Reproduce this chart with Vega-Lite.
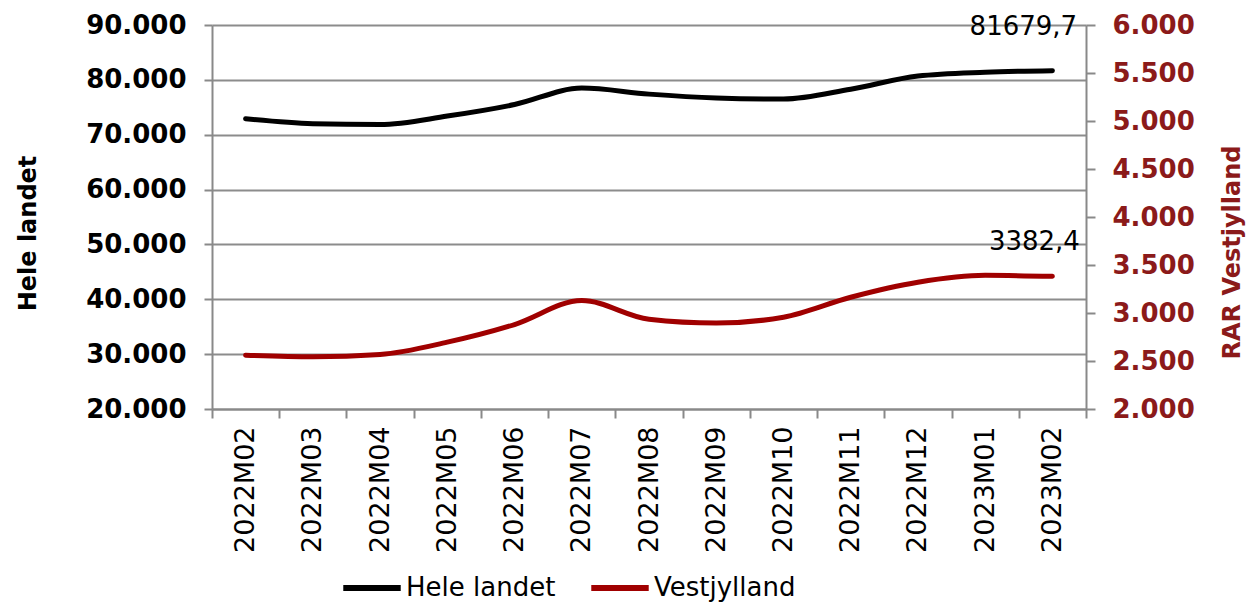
{
  "$schema": "https://vega.github.io/schema/vega-lite/v6.json",
  "width": 874,
  "height": 384,
  "autosize": {"type": "none"},
  "padding": {"left": 212, "top": 25, "right": 168, "bottom": 193},
  "background": "white",
  "config": {
    "locale": {"number": {"decimal": ",", "thousands": ".", "grouping": [3], "currency": ["", " kr."]}},
    "view": {"stroke": null},
    "font": "DejaVu Sans"
  },
  "data": {"values": [
    {"month": "2022M02", "hele": 72900, "vest": 2561},
    {"month": "2022M03", "hele": 72000, "vest": 2545},
    {"month": "2022M04", "hele": 71850, "vest": 2568},
    {"month": "2022M05", "hele": 73400, "vest": 2696},
    {"month": "2022M06", "hele": 75500, "vest": 2880},
    {"month": "2022M07", "hele": 78500, "vest": 3130},
    {"month": "2022M08", "hele": 77400, "vest": 2935},
    {"month": "2022M09", "hele": 76700, "vest": 2895},
    {"month": "2022M10", "hele": 76500, "vest": 2956},
    {"month": "2022M11", "hele": 78300, "vest": 3164},
    {"month": "2022M12", "hele": 80700, "vest": 3320},
    {"month": "2023M01", "hele": 81400, "vest": 3392},
    {"month": "2023M02", "hele": 81679.7, "vest": 3382.4}
  ]},
  "encoding": {
    "x": {
      "field": "month", "type": "ordinal", "bandPosition": 0.5,
      "scale": {"type": "band", "paddingInner": 0, "paddingOuter": 0},
      "axis": {
        "title": null, "tickBand": "extent", "labelAngle": -90, "labelAlign": "right", "labelBaseline": "middle",
        "labelFont": "DejaVu Sans", "labelFontSize": 27, "labelColor": "black", "labelPadding": 8, "labelOverlap": false,
        "domainColor": "#898989", "domainWidth": 2, "tickColor": "#898989", "tickWidth": 2, "tickSize": 9, "grid": false
      }
    }
  },
  "layer": [
    {
      "encoding": {
        "y": {
          "field": "hele", "type": "quantitative",
          "scale": {"domain": [20000, 90000], "nice": false, "zero": false},
          "axis": {
            "orient": "left", "title": "Hele landet", "values": [20000, 30000, 40000, 50000, 60000, 70000, 80000, 90000],
            "format": ",.0f", "labelFont": "DejaVu Sans", "labelFontWeight": "bold", "labelFontSize": 26, "labelColor": "black", "labelPadding": 18,
            "labelOverlap": false, "labelFlush": false,
            "titleFont": "DejaVu Sans", "titleFontSize": 24, "titleFontWeight": "bold", "titleColor": "black",
            "titleAngle": 270, "titleBaseline": "middle", "titleX": -184, "titleY": 208,
            "domainColor": "#898989", "domainWidth": 2, "tickColor": "#898989", "tickWidth": 2, "tickSize": 8,
            "grid": true, "gridColor": "#8c8c8c", "gridWidth": 2
          }
        }
      },
      "layer": [
        {
          "mark": {"type": "line", "interpolate": "monotone", "strokeWidth": 5, "strokeCap": "round"},
          "encoding": {"color": {"datum": "Hele landet", "type": "nominal",
            "scale": {"domain": ["Hele landet", "Vestjylland"], "range": ["#000000", "#a00000"]},
            "legend": {"title": null, "orient": "none", "legendX": 128, "legendY": 531, "direction": "horizontal",
              "symbolType": "stroke", "symbolStrokeWidth": 6, "symbolSize": 3300, "labelFont": "DejaVu Sans", "labelFontSize": 26,
              "labelColor": "black", "columnPadding": 23, "labelOffset": 2}}}
        },
        {
          "transform": [{"filter": "datum.month == '2023M02'"}],
          "mark": {"type": "text", "dx": -29, "dy": -44, "fontSize": 26, "font": "DejaVu Sans", "color": "black"},
          "encoding": {"text": {"field": "hele", "type": "quantitative", "format": ".1f"}}
        }
      ]
    },
    {
      "encoding": {
        "y": {
          "field": "vest", "type": "quantitative",
          "scale": {"domain": [2000, 6000], "nice": false, "zero": false},
          "axis": {
            "orient": "right", "title": "RAR Vestjylland", "values": [2000, 2500, 3000, 3500, 4000, 4500, 5000, 5500, 6000],
            "format": ",.0f", "labelFont": "DejaVu Sans", "labelFontWeight": "bold", "labelFontSize": 26, "labelColor": "#8b1a1a", "labelPadding": 17,
            "labelOverlap": false, "labelFlush": false,
            "titleFont": "DejaVu Sans", "titleFontSize": 24, "titleFontWeight": "bold", "titleColor": "#8b1a1a",
            "titleAngle": 270, "titleBaseline": "middle", "titleX": 146, "titleY": 227,
            "domainColor": "#898989", "domainWidth": 2, "tickColor": "#898989", "tickWidth": 2, "tickSize": 9,
            "grid": false
          }
        }
      },
      "layer": [
        {
          "mark": {"type": "line", "interpolate": "monotone", "strokeWidth": 5, "strokeCap": "round"},
          "encoding": {"color": {"datum": "Vestjylland", "type": "nominal"}}
        },
        {
          "transform": [{"filter": "datum.month == '2023M02'"}],
          "mark": {"type": "text", "dx": -18, "dy": -34, "fontSize": 26, "font": "DejaVu Sans", "color": "black"},
          "encoding": {"text": {"field": "vest", "type": "quantitative", "format": ".1f"}}
        }
      ]
    }
  ],
  "resolve": {"scale": {"y": "independent"}}
}
